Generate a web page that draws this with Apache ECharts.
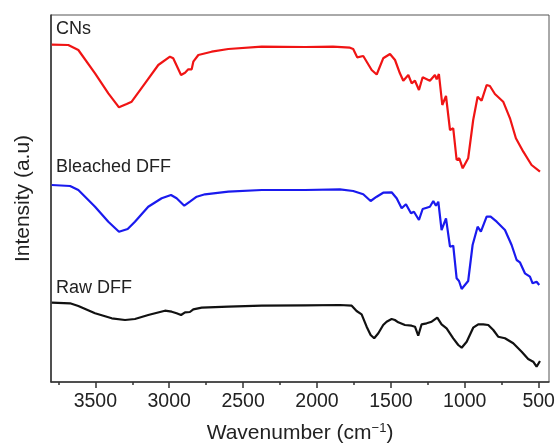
<!DOCTYPE html>
<html>
<head>
<meta charset="utf-8">
<script src="https://cdn.jsdelivr.net/npm/echarts@6/dist/echarts.min.js"></script>
<style>
  html, body { margin: 0; padding: 0; background: #fff; }
  #chart { width: 555px; height: 446px; }
</style>
</head>
<body>
<div id="chart"></div>
<script>
// FTIR spectra, intensity in arbitrary units (offset per sample)
const majorTicks = [3500, 3000, 2500, 2000, 1500, 1000, 500]
const minorTicks = [3750, 3250, 2750, 2250, 1750, 1250, 750]

// CNs
const cnsWave = [3795, 3683, 3615, 3502, 3412, 3340, 3288, 3254, 3164, 3074, 2995, 2973, 2920, 2893, 2871, 2848, 2837, 2803, 2713, 2600, 2374, 2081, 1892, 1777, 1755, 1728, 1687, 1630, 1596, 1552, 1506, 1472, 1439, 1416, 1382, 1359, 1337, 1310, 1285, 1236, 1202, 1190, 1175, 1152, 1127, 1100, 1078, 1055, 1037, 1014, 977, 943, 913, 886, 852, 830, 796, 740, 694, 654, 604, 548, 491]
const cnsInt = [337.3, 337, 332, 308.7, 288.7, 274.7, 278, 280.3, 298.7, 317, 325.3, 323.7, 307, 309.3, 312.7, 312.7, 320.3, 327, 330.3, 333, 335.3, 335, 335.3, 334.3, 333, 324.7, 326, 312, 307.5, 323.7, 328, 322, 308.7, 301.3, 307, 298.7, 301.3, 292, 304.7, 301.3, 307, 302.7, 308, 277, 286, 252, 253.7, 222, 223.7, 213.7, 223.7, 262, 285.3, 281.3, 297, 296, 288, 280.3, 263.7, 243.7, 230.3, 217, 210.3]

// Bleached DFF
const bleWave = [3795, 3671, 3615, 3502, 3412, 3340, 3281, 3232, 3142, 3051, 2988, 2950, 2898, 2860, 2814, 2758, 2600, 2374, 2081, 1845, 1755, 1687, 1637, 1596, 1552, 1495, 1461, 1427, 1398, 1364, 1344, 1310, 1285, 1236, 1213, 1195, 1179, 1157, 1127, 1100, 1078, 1055, 1039, 1021, 977, 947, 913, 891, 852, 825, 784, 728, 683, 649, 627, 593, 559, 541, 514, 496]
const bleInt = [197, 196, 192, 175.3, 160.3, 150.3, 153, 160.3, 175.3, 183.7, 187, 183.7, 176.3, 180.3, 185.3, 187.7, 190.3, 192, 192, 192.7, 191, 187.7, 181, 185.3, 189.3, 189.7, 183.7, 173.7, 177.7, 168.7, 170.3, 162, 173, 175.3, 181, 176.3, 180.3, 152, 163.7, 135.3, 136.3, 103.7, 101, 93, 101, 137, 155.3, 150.3, 165.3, 165.3, 160.3, 152, 137, 122, 119.7, 108.7, 105.3, 98.7, 100.3, 97]

// Raw DFF
const rawWave = [3795, 3671, 3615, 3502, 3389, 3299, 3232, 3142, 3029, 2983, 2950, 2920, 2893, 2860, 2837, 2780, 2600, 2374, 2081, 1845, 1765, 1732, 1698, 1664, 1637, 1613, 1585, 1552, 1529, 1495, 1473, 1450, 1405, 1360, 1337, 1315, 1292, 1258, 1224, 1186, 1157, 1123, 1078, 1044, 1021, 987, 943, 909, 875, 841, 807, 774, 728, 672, 615, 571, 537, 514, 491]
const rawInt = [79.3, 78.7, 76, 68.7, 63.7, 62, 63, 67, 71.3, 70.3, 68.7, 67, 69.7, 70, 72.7, 74.3, 75.3, 76.3, 76.7, 77, 76.3, 71, 67.7, 55.3, 47, 43.7, 48.7, 57, 60.3, 63, 62, 59.7, 57, 56.3, 55.3, 46.3, 57.7, 58.7, 60.3, 64.3, 57.7, 53.7, 43.7, 37, 34.3, 40.3, 54.3, 57.7, 57.7, 57, 52, 45.3, 43.7, 38.7, 30.3, 23, 20.3, 15.3, 21]

const pair = (xs, ys) => xs.map((x, i) => [x, ys[i]])

const chart = echarts.init(document.getElementById('chart'))

const fontFam = '"Liberation Sans", Arial, sans-serif'

const option = {
  animation: false,
  textStyle: { fontFamily: fontFam },
  grid: {
    left: 51,
    right: 6,
    top: 15,
    bottom: 64,
    outerBoundsMode: 'none',
    show: true,
    borderColor: '#555',
    borderWidth: 1
  },
  xAxis: [
    {
      type: 'value',
      inverse: true,
      min: 430,
      max: 3800,
      splitLine: { show: false },
      axisLine: { show: true, onZero: false, lineStyle: { color: '#333', width: 1.5 } },
      axisTick: { customValues: majorTicks, length: 6, lineStyle: { color: '#333', width: 1.5 } },
      axisLabel: {
        customValues: majorTicks,
        formatter: v => String(v),
        fontSize: 19.5,
        color: '#222',
        margin: 10,
        fontFamily: fontFam
      },
      name: '{a|Wavenumber (cm}{b|−1}{a|)}',
      nameLocation: 'middle',
      nameGap: 40,
      nameTextStyle: {
        rich: {
          a: { fontSize: 21, color: '#222', fontFamily: fontFam },
          b: { fontSize: 13, color: '#222', fontFamily: fontFam, padding: [0, 0, 10, 0] }
        }
      }
    },
    {
      type: 'value',
      inverse: true,
      min: 430,
      max: 3800,
      position: 'bottom',
      splitLine: { show: false },
      axisLine: { show: false },
      axisTick: { customValues: minorTicks, length: 3, lineStyle: { color: '#333', width: 1.5 } },
      axisLabel: { show: false }
    }
  ],
  yAxis: {
    type: 'value',
    min: 0,
    max: 367,
    splitLine: { show: false },
    axisTick: { show: false },
    axisLabel: { show: false },
    axisLine: { show: true, lineStyle: { color: '#333', width: 1.5 } },
    name: 'Intensity (a.u)',
    nameLocation: 'middle',
    nameGap: 17,
    nameTextStyle: { fontSize: 21, color: '#222', fontFamily: fontFam }
  },
  series: [
    {
      name: 'CNs',
      type: 'line',
      data: pair(cnsWave, cnsInt),
      showSymbol: false,
      lineStyle: { color: '#f01414', width: 2.2 },
      itemStyle: { color: '#f01414' }
    },
    {
      name: 'Bleached DFF',
      type: 'line',
      data: pair(bleWave, bleInt),
      showSymbol: false,
      lineStyle: { color: '#1a1aee', width: 2.2 },
      itemStyle: { color: '#1a1aee' }
    },
    {
      name: 'Raw DFF',
      type: 'line',
      data: pair(rawWave, rawInt),
      showSymbol: false,
      lineStyle: { color: '#111', width: 2.2 },
      itemStyle: { color: '#111' }
    }
  ],
  graphic: [
    { type: 'text', left: 56, top: 20, style: { text: 'CNs', fontSize: 18, fill: '#222', fontFamily: fontFam } },
    { type: 'text', left: 56, top: 158, style: { text: 'Bleached DFF', fontSize: 18, fill: '#222', fontFamily: fontFam } },
    { type: 'text', left: 56, top: 279, style: { text: 'Raw DFF', fontSize: 18, fill: '#222', fontFamily: fontFam } }
  ]
}

chart.setOption(option)
</script>
</body>
</html>
